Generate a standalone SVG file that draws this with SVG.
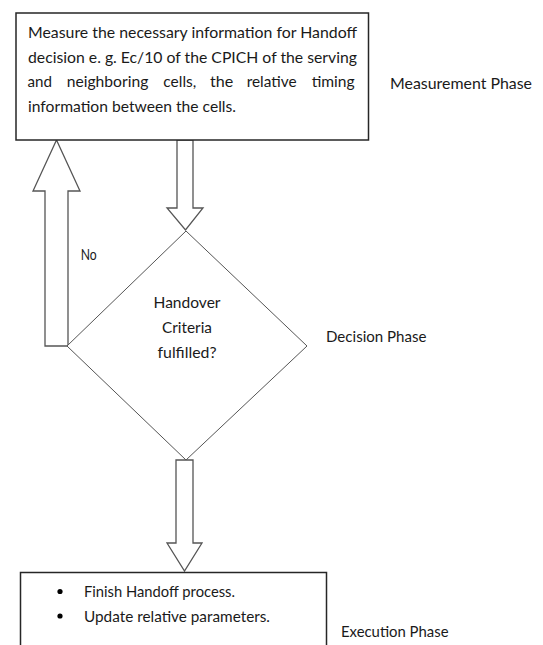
<svg xmlns="http://www.w3.org/2000/svg" width="543" height="645" viewBox="0 0 543 645">
<style>
.box{fill:#fff;stroke:#262626;stroke-width:1.5}
.arrow{fill:#fff;stroke:#555;stroke-width:1.3;stroke-linejoin:miter}
.dia{fill:#fff;stroke:#555;stroke-width:1}
.t{font-family:Lato,"Liberation Sans",sans-serif;font-size:16px;fill:#1a1a1a}
</style>
<rect width="543" height="645" fill="#fff"/>
<g id="connectors">
<polygon class="arrow" points="56.5,140 80,191 68,191 68,346 45,346 45,191 33,191"/>
<polygon class="arrow" points="177,140 193,140 193,208 203,208 185.5,230 167,208 177,208"/>
<polygon class="arrow" points="176,460 193,460 193,543 202,543 184.5,571 167,543 176,543"/>
</g>
<g id="measure">
<rect class="box" x="16" y="13" width="352.5" height="127"/>
<text class="t" x="28" y="37.5" textLength="329" lengthAdjust="spacingAndGlyphs">Measure the necessary information for Handoff</text>
<text class="t" x="28" y="62.5" textLength="329" lengthAdjust="spacingAndGlyphs">decision e. g. Ec/10 of the CPICH of the serving</text>
<text class="t" x="27.5" y="87" textLength="24.5" lengthAdjust="spacingAndGlyphs">and</text>
<text class="t" x="66.7" y="87" textLength="81.6" lengthAdjust="spacingAndGlyphs">neighboring</text>
<text class="t" x="163.3" y="87" textLength="33" lengthAdjust="spacingAndGlyphs">cells,</text>
<text class="t" x="210" y="87" textLength="23.3" lengthAdjust="spacingAndGlyphs">the</text>
<text class="t" x="246.7" y="87" textLength="50" lengthAdjust="spacingAndGlyphs">relative</text>
<text class="t" x="311.7" y="87" textLength="43" lengthAdjust="spacingAndGlyphs">timing</text>
<text class="t" x="28" y="111.5" textLength="208" lengthAdjust="spacingAndGlyphs">information between the cells.</text>
</g>
<g id="decision">
<polygon class="dia" points="186,231 307,346 186,460 67,346"/>
<text class="t" x="187" y="308" textLength="67" lengthAdjust="spacingAndGlyphs" text-anchor="middle">Handover</text>
<text class="t" x="187" y="333" textLength="50" lengthAdjust="spacingAndGlyphs" text-anchor="middle">Criteria</text>
<text class="t" x="187" y="358" textLength="59" lengthAdjust="spacingAndGlyphs" text-anchor="middle">fulfilled?</text>
</g>
<g id="no-label">
<text class="t" x="80.7" y="260" textLength="16" lengthAdjust="spacingAndGlyphs">No</text>
</g>
<g id="execution">
<rect class="box" x="20.5" y="572.5" width="306" height="100"/>
<circle cx="60" cy="591.5" r="2.6" fill="#000"/>
<circle cx="60" cy="616" r="2.6" fill="#000"/>
<text class="t" x="84" y="597" textLength="151" lengthAdjust="spacingAndGlyphs">Finish Handoff process.</text>
<text class="t" x="84" y="621.5" textLength="186" lengthAdjust="spacingAndGlyphs">Update relative parameters.</text>
</g>
<g id="phase-labels">
<text class="t" x="390" y="89" textLength="142" lengthAdjust="spacingAndGlyphs">Measurement Phase</text>
<text class="t" x="326" y="341.5" textLength="100.5" lengthAdjust="spacingAndGlyphs">Decision Phase</text>
<text class="t" x="341" y="636.5" textLength="107.5" lengthAdjust="spacingAndGlyphs">Execution Phase</text>
</g>
</svg>
